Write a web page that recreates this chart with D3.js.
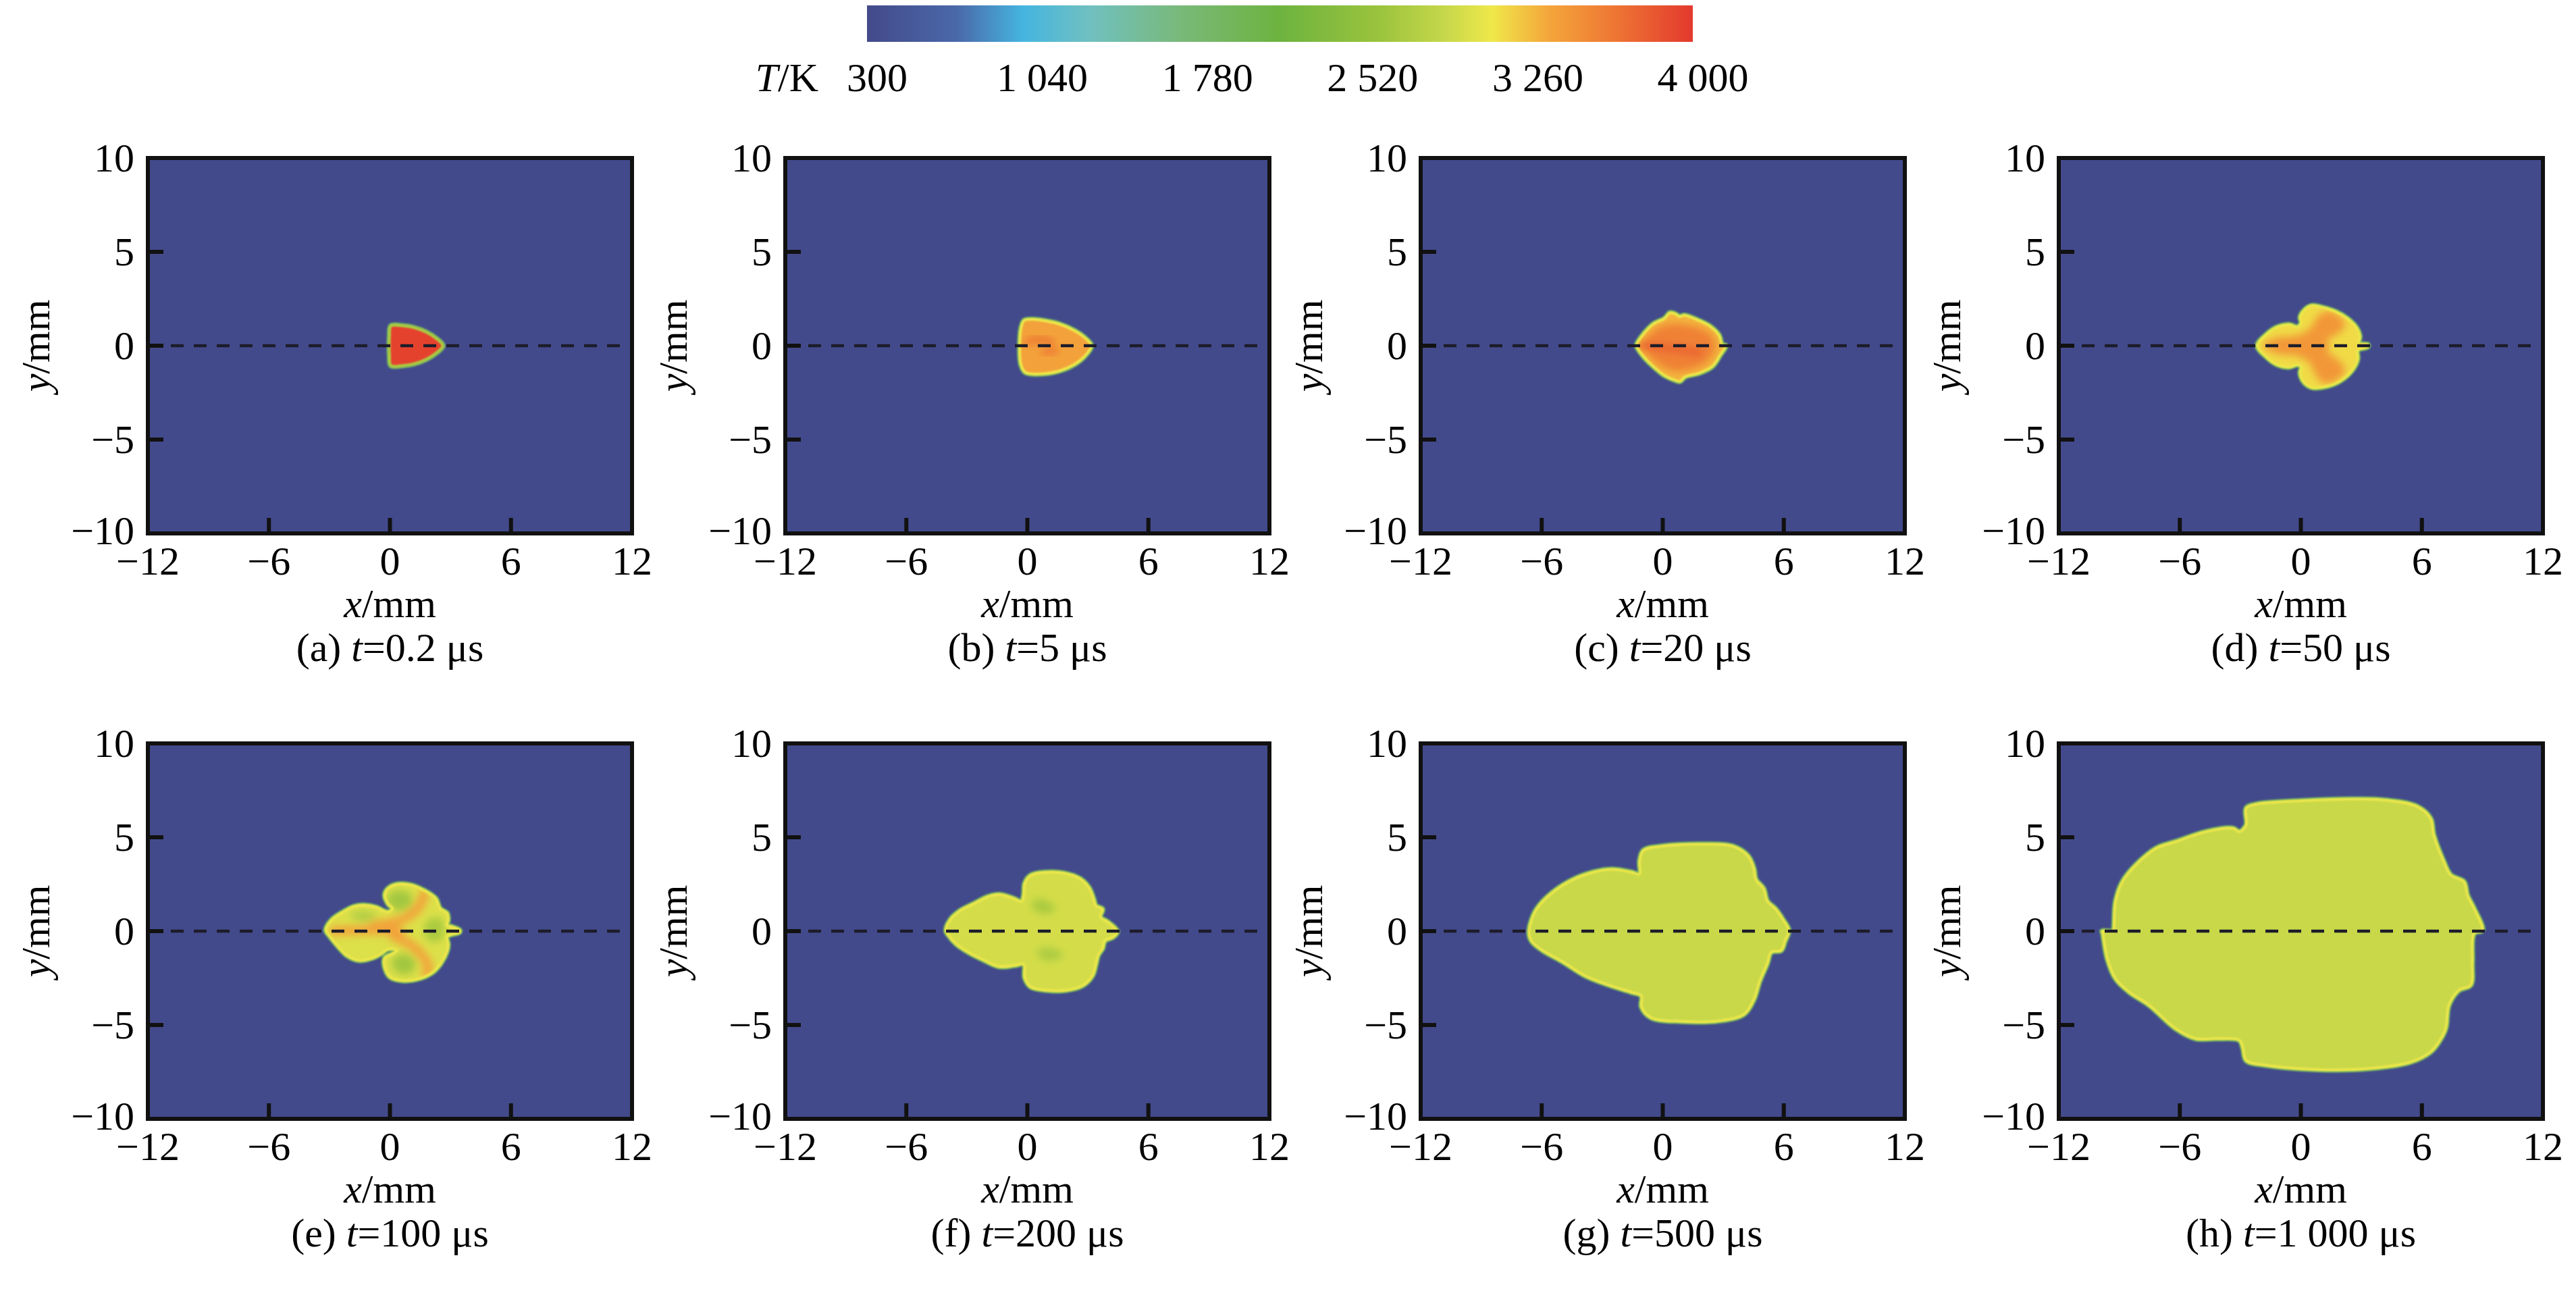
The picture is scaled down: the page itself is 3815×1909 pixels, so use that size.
<!DOCTYPE html>
<html><head><meta charset="utf-8">
<script src="https://cdn.jsdelivr.net/npm/d3@7"></script>
<style>
body{margin:0;background:#fff}
text{font-family:"Liberation Serif","DejaVu Serif","Times New Roman",serif}
</style>
</head><body>
<svg id="c"></svg>
<script>
// ---------- data ----------
const xTicks = [-12, -6, 0, 6, 12];
const yTicks = [10, 5, 0, -5, -10];
const cbTicks = [300, 1040, 1780, 2520, 3260, 4000];
const cbLabels = ["300", "1 040", "1 780", "2 520", "3 260", "4 000"];
const letters = ["a","b","c","d","e","f","g","h"];
const times = ["0.2","5","20","50","100","200","500","1 000"];
const fillT = [3950, 3380, 3300, 3150, 3000, 2960, 2900, 2900];
const edgeT = [2700, 3100, 3100, 3100, 3100, 3100, 3100, 3100];
const tStops = [300, 700, 1000, 1300, 1700, 2150, 2600, 2900, 3100, 3350, 3650, 4000];
const cStops = ["#434a8b","#4a68a8","#45b5e0","#70c0c0","#79b97a","#6db33f","#9bc43d","#c8d84a","#efe84a","#f4a73b","#ee7634","#e3392d"];

// flame outlines (x mm, y mm)
const outlineA = [[0.05,1.05],[0.6,1.06],[1.2,0.96],[1.8,0.72],[2.3,0.38],[2.62,0],[2.3,-0.38],[1.8,-0.72],[1.2,-0.96],[0.6,-1.06],[0.05,-1.05],[-0.02,-0.5],[-0.02,0.5]];
const outlineB = [[-0.3,1.0],[-0.15,1.35],[0.3,1.4],[0.8,1.34],[1.57,1.16],[2.34,0.8],[2.83,0.44],[3.17,0],[2.83,-0.57],[2.34,-0.99],[1.57,-1.35],[0.68,-1.5],[-0.1,-1.42],[-0.32,-1.0],[-0.38,0]];
const outlineC = [[-1.3,0.03],[-0.91,0.68],[-0.46,1.16],[0.1,1.46],[0.35,1.75],[0.6,1.7],[0.85,1.55],[1.05,1.62],[1.67,1.4],[2.34,1.04],[2.79,0.56],[2.95,0.05],[3.12,0],[2.84,-0.51],[2.45,-1.11],[1.78,-1.47],[1.11,-1.65],[0.85,-1.9],[0.6,-1.83],[0.1,-1.59],[-0.46,-1.11],[-0.91,-0.63],[-1.24,-0.15]];
const outlineD = [[-2.16,0],[-1.71,0.6],[-1.16,1.0],[-0.59,1.12],[-0.15,1.0],[0.02,1.26],[-0.04,1.49],[0.13,1.85],[0.52,2.13],[1.08,2.04],[1.76,1.8],[2.32,1.44],[2.76,0.96],[2.93,0.48],[2.87,0.12],[3.32,0.06],[3.32,-0.06],[2.82,-0.24],[2.82,-0.72],[2.54,-1.32],[1.98,-1.86],[1.31,-2.16],[0.52,-2.22],[0.13,-1.92],[-0.04,-1.44],[0.02,-1.14],[-0.15,-1.02],[-0.59,-1.14],[-1.16,-1.02],[-1.71,-0.6]];
const outlineE = [[-3.18,0.06],[-2.89,0.6],[-2.33,1.02],[-1.77,1.32],[-1.21,1.38],[-0.65,1.26],[-0.31,1.08],[-0.09,1.02],[0.13,1.2],[-0.09,1.44],[-0.26,1.92],[-0.09,2.28],[0.36,2.5],[1.03,2.46],[1.71,2.16],[2.27,1.74],[2.49,1.2],[2.83,0.96],[2.89,0.6],[2.83,0.3],[3.05,0.24],[3.45,0.06],[3.45,-0.06],[3.05,-0.18],[2.83,-0.3],[2.89,-0.72],[2.83,-1.08],[2.55,-1.68],[2.16,-2.16],[1.49,-2.52],[0.7,-2.64],[0.02,-2.46],[-0.26,-1.92],[-0.26,-1.44],[0.13,-1.2],[0.36,-1.02],[-0.09,-0.96],[-0.43,-1.2],[-0.88,-1.44],[-1.55,-1.56],[-2.11,-1.32],[-2.56,-0.84],[-3.01,-0.24]];
const outlineF = [[-4.04,0.04],[-3.81,0.63],[-3.31,1.11],[-2.64,1.47],[-1.97,1.83],[-1.41,1.95],[-0.74,1.77],[-0.29,1.59],[-0.18,1.95],[-0.13,2.55],[0.16,2.97],[0.83,3.13],[1.83,3.09],[2.62,2.79],[3.06,2.31],[3.29,1.71],[3.4,1.35],[3.73,1.17],[3.62,0.75],[3.96,0.51],[4.35,0.16],[4.46,-0.03],[4.24,-0.33],[3.85,-0.51],[3.73,-0.93],[3.51,-1.29],[3.4,-1.77],[3.23,-2.37],[2.73,-2.91],[1.94,-3.15],[0.94,-3.15],[0.16,-2.97],[-0.13,-2.49],[-0.18,-1.77],[-0.63,-1.83],[-1.41,-1.89],[-2.19,-1.53],[-2.86,-1.17],[-3.53,-0.69],[-3.92,-0.21]];
const outlineG = [[-6.63,-0.06],[-6.35,1.0],[-5.77,1.78],[-4.62,2.66],[-3.46,3.14],[-2.5,3.29],[-1.54,3.14],[-1.15,3.04],[-1.15,3.72],[-0.96,4.3],[0,4.53],[1.92,4.63],[3.46,4.53],[4.23,4.01],[4.52,3.33],[4.62,2.75],[5.0,2.27],[5.19,1.59],[5.58,1.2],[5.96,0.62],[6.25,0.04],[6.06,-0.54],[5.87,-1.03],[5.38,-1.12],[5.19,-1.71],[4.81,-2.67],[4.52,-3.64],[4.04,-4.42],[2.88,-4.77],[0.96,-4.81],[-0.58,-4.61],[-1.06,-4.03],[-1.06,-3.45],[-1.54,-3.26],[-2.69,-2.87],[-3.85,-2.38],[-5.0,-1.61],[-5.96,-1.03],[-6.5,-0.54]];
const outlineH = [[-9.27,0.14],[-9.19,1.57],[-8.85,2.63],[-8.19,3.52],[-7.19,4.41],[-6.2,4.77],[-4.7,5.3],[-3.37,5.48],[-3.04,5.3],[-2.71,5.66],[-2.71,6.55],[-2.21,6.76],[-0.05,6.94],[2.44,7.03],[4.1,6.99],[5.76,6.64],[6.43,6.01],[6.59,5.12],[7.09,3.7],[7.43,2.99],[8.09,2.63],[8.26,1.92],[8.59,1.21],[9.0,0.05],[8.59,-0.12],[8.5,-1.64],[8.42,-2.88],[7.84,-3.15],[7.34,-3.95],[7.18,-5.2],[6.84,-5.91],[6.43,-6.44],[5.43,-6.98],[3.27,-7.33],[0.78,-7.37],[-1.71,-7.15],[-2.71,-6.89],[-2.87,-6.26],[-3.04,-5.82],[-4.2,-5.73],[-5.2,-5.73],[-6.2,-5.2],[-7.52,-3.95],[-8.52,-3.24],[-9.19,-2.53],[-9.6,-1.46],[-9.82,-0.12],[-9.85,0],[-9.3,0.0]];

// interior temperature patches
const patchC = [[-1.0,0.05],[-0.5,0.75],[0.3,1.15],[1.2,1.1],[2.2,0.75],[2.6,0.15],[2.4,-0.6],[1.6,-1.2],[0.6,-1.35],[-0.3,-0.9]];
const patchD = [[-1.9,0.02],[-1.2,0.42],[-0.2,0.55],[0.45,0.9],[0.8,1.5],[1.3,1.85],[1.9,1.6],[2.2,1.1],[1.8,0.6],[1.3,0.3],[1.45,0.0],[1.3,-0.3],[1.8,-0.7],[2.2,-1.3],[1.7,-1.9],[1.1,-2.0],[0.7,-1.5],[0.4,-0.9],[-0.2,-0.55],[-1.2,-0.42]];
const patchE1 = [[-0.1,1.9],[0.4,2.2],[1.0,2.0],[1.1,1.5],[0.6,1.1],[0.0,1.3]];
const patchE2 = [[0.1,-1.9],[0.6,-2.3],[1.2,-2.1],[1.2,-1.5],[0.7,-1.2],[0.2,-1.4]];
const patchE3 = [[1.9,0.6],[2.5,0.7],[2.7,0.1],[2.5,-0.5],[1.9,-0.5],[1.7,0.0]];
const patchE4 = [[-2.0,0.9],[-1.2,1.1],[-0.6,0.8],[-1.4,0.5]];
const patchF1 = [[0.2,1.3],[0.8,0.9],[1.4,1.2],[1.0,1.6],[0.4,1.7]];
const patchF2 = [[0.5,-1.0],[1.3,-0.9],[1.8,-1.3],[1.1,-1.6],[0.6,-1.4]];
// interior hot streaks
const streakB1 = [[0.0,0.2],[0.6,0.35],[1.2,0.2]];
const streakB2 = [[0.8,-0.35],[1.4,-0.3]];
const streakC = [[-1.1,0],[0,-0.1],[1.0,-0.25],[1.8,-0.35]];
const streakE1 = [[-2.8,0],[-1.5,0.05],[-0.3,0.05],[0.5,-0.05]];
const streakE2 = [[-0.8,0.3],[0.3,0.5],[1.0,0.85],[1.5,1.4],[1.7,2.0]];
const streakE3 = [[0.2,-0.3],[1.0,-0.7],[1.6,-1.3],[1.9,-1.9],[1.8,-2.3]];

// ---------- build ----------
const panels = [
  {o: outlineA, patches: [], streaks: []},
  {o: outlineB, patches: [], streaks: [[3700, streakB1, 0.28],[3700, streakB2, 0.25]]},
  {o: outlineC, patches: [[3580, patchC]], streaks: [[3780, streakC, 0.35]]},
  {o: outlineD, patches: [[3450, patchD]], streaks: []},
  {o: outlineE, patches: [[2650, patchE1],[2650, patchE2],[2700, patchE3],[2750, patchE4]], streaks: [[3380, streakE1, 0.45],[3380, streakE2, 0.45],[3380, streakE3, 0.45]]},
  {o: outlineF, patches: [[2700, patchF1],[2720, patchF2]], streaks: []},
  {o: outlineG, patches: [], streaks: []},
  {o: outlineH, patches: [], streaks: []}
];

const W = 3815, H = 1909;
const lefts = [219, 1163, 2104, 3049], tops = [234, 1101];
const pw = 717, ph = 556;
const FONT = "Liberation Serif, DejaVu Serif, Times New Roman, serif";
const color = d3.scaleLinear().domain(tStops).range(cStops).interpolate(d3.interpolateRgb);

const svg = d3.select("#c").attr("width", W).attr("height", H).attr("font-family", FONT);
const defs = svg.append("defs");
defs.append("filter").attr("id","soft").attr("x","-10%").attr("y","-10%").attr("width","120%").attr("height","120%")
  .append("feGaussianBlur").attr("stdDeviation", 1.3);
defs.append("filter").attr("id","blur").attr("x","-30%").attr("y","-30%").attr("width","160%").attr("height","160%")
  .append("feGaussianBlur").attr("stdDeviation", 6);

// colour bar
const cbX = d3.scaleLinear().domain([300, 4000]).range([1284, 2507]);
const grad = defs.append("linearGradient").attr("id","cbg").attr("x1","0%").attr("x2","100%").attr("y1","0%").attr("y2","0%");
tStops.forEach((t, i) => grad.append("stop").attr("offset", ((t - 300) / 3700 * 100) + "%").attr("stop-color", cStops[i]));
svg.append("rect").attr("x", cbX(300)).attr("y", 8).attr("width", cbX(4000) - cbX(300)).attr("height", 54).attr("fill","url(#cbg)");
const cbt = svg.append("text").attr("x", 1212).attr("y", 135).attr("text-anchor","end").attr("font-size", 60).attr("font-family", FONT);
cbt.append("tspan").attr("font-style","italic").text("T");
cbt.append("tspan").text("/K");
svg.selectAll(".cbl").data(cbTicks).enter().append("text").attr("class","cbl")
  .attr("x", d => cbX(d) + 15).attr("y", 135).attr("text-anchor","middle").attr("font-size", 60).attr("font-family", FONT)
  .text((d, i) => cbLabels[i]);

const fmt = v => v < 0 ? "\u2212" + Math.abs(v) : String(v);

panels.forEach((p, i) => {
  const col = i % 4, row = Math.floor(i / 4);
  const x0 = lefts[col], y0 = tops[row];
  const x = d3.scaleLinear().domain([-12, 12]).range([x0, x0 + pw]);
  const y = d3.scaleLinear().domain([-10, 10]).range([y0 + ph, y0]);
  const closed = d3.line().x(d => x(d[0])).y(d => y(d[1])).curve(d3.curveCatmullRomClosed.alpha(0.5));
  const open = d3.line().x(d => x(d[0])).y(d => y(d[1])).curve(d3.curveCatmullRom.alpha(0.5));
  const g = svg.append("g");

  defs.append("clipPath").attr("id", "pc" + i).append("rect").attr("x", x0).attr("y", y0).attr("width", pw).attr("height", ph);
  defs.append("clipPath").attr("id", "sc" + i).append("path").attr("d", closed(p.o));

  const pg = g.append("g").attr("clip-path", `url(#pc${i})`);
  pg.append("rect").attr("x", x0).attr("y", y0).attr("width", pw).attr("height", ph).attr("fill", color(300));
  const sg = pg.append("g").attr("filter", "url(#soft)");
  sg.append("path").attr("d", closed(p.o)).attr("fill", "none").attr("stroke", color(1900)).attr("stroke-width", 8);
  sg.append("path").attr("d", closed(p.o)).attr("fill", color(fillT[i])).attr("stroke", "none");
  const ig = pg.append("g").attr("clip-path", `url(#sc${i})`).append("g").attr("filter", "url(#blur)");
  p.patches.forEach(([t, pts]) => ig.append("path").attr("d", closed(pts)).attr("fill", color(t)));
  const pxmm = x(1) - x(0);
  p.streaks.forEach(([t, pts, w]) => ig.append("path").attr("d", open(pts)).attr("fill","none")
    .attr("stroke", color(t)).attr("stroke-width", w * pxmm).attr("stroke-linecap","round"));
  pg.append("path").attr("d", closed(p.o)).attr("fill","none").attr("stroke", color(edgeT[i]))
    .attr("stroke-width", 4).attr("filter","url(#soft)");

  // dashed centre line
  pg.append("line").attr("x1", x(-12)).attr("x2", x(12)).attr("y1", y(0)).attr("y2", y(0))
    .attr("stroke", "#1c1c2a").attr("stroke-width", 4.5).attr("stroke-dasharray", "19 15");

  // ticks
  const tk = 23;
  g.selectAll(".xt").data(xTicks.filter(v => v > -12 && v < 12)).enter().append("line")
    .attr("x1", d => x(d)).attr("x2", d => x(d)).attr("y1", y0 + ph).attr("y2", y0 + ph - tk)
    .attr("stroke", "#111").attr("stroke-width", 6);
  g.selectAll(".yt").data(yTicks.filter(v => v > -10 && v < 10)).enter().append("line")
    .attr("x1", x0).attr("x2", x0 + tk).attr("y1", d => y(d)).attr("y2", d => y(d))
    .attr("stroke", "#111").attr("stroke-width", 6);
  g.append("rect").attr("x", x0).attr("y", y0).attr("width", pw).attr("height", ph)
    .attr("fill", "none").attr("stroke", "#111").attr("stroke-width", 6);

  // tick labels
  g.selectAll(".xl").data(xTicks).enter().append("text").attr("x", d => x(d)).attr("y", y0 + ph + 61)
    .attr("text-anchor", "middle").attr("font-size", 60).attr("font-family", FONT).text(fmt);
  g.selectAll(".yl").data(yTicks).enter().append("text").attr("x", x0 - 20).attr("y", d => y(d) - (d === -10 ? 4 : 0)).attr("dy", "0.34em")
    .attr("text-anchor", "end").attr("font-size", 60).attr("font-family", FONT).text(fmt);

  // axis titles
  const xt = g.append("text").attr("x", x0 + pw / 2).attr("y", y0 + ph + 124).attr("text-anchor", "middle").attr("font-size", 60).attr("font-family", FONT);
  xt.append("tspan").attr("font-style", "italic").text("x");
  xt.append("tspan").text("/mm");
  const yt = g.append("text").attr("transform", `translate(${x0 - 146},${y0 + ph / 2}) rotate(-90)`)
    .attr("text-anchor", "middle").attr("font-size", 60).attr("font-family", FONT);
  yt.append("tspan").attr("font-style", "italic").text("y");
  yt.append("tspan").text("/mm");

  // caption
  const cp = g.append("text").attr("x", x0 + pw / 2).attr("y", y0 + ph + 189).attr("text-anchor", "middle").attr("font-size", 60).attr("font-family", FONT);
  cp.append("tspan").text(`(${letters[i]}) `);
  cp.append("tspan").attr("font-style", "italic").text("t");
  cp.append("tspan").text(`=${times[i]} \u03bcs`);
});
</script>
</body></html>
